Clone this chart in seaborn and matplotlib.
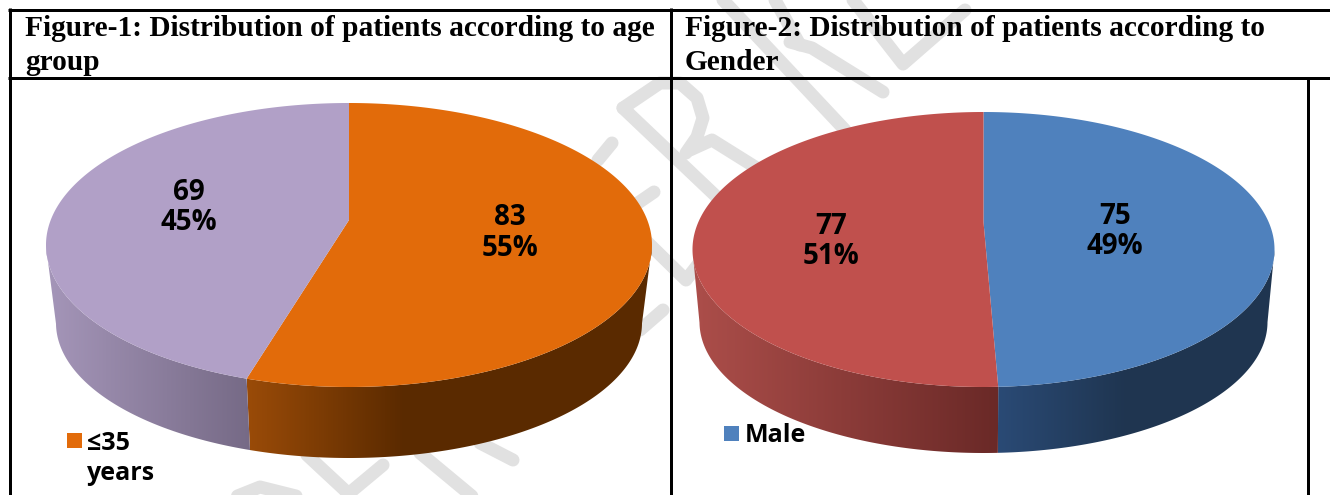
import numpy as np
import matplotlib
matplotlib.use("Agg")
import matplotlib.pyplot as plt
from matplotlib.patches import Polygon, Rectangle
from matplotlib.colors import ListedColormap
import seaborn as sns

# ---- data ----
age_categories = ["≤35\nyears", ">35 years"]
age_counts = [83, 69]
age_percent = [55, 45]
gender_categories = ["Male", "Female"]
gender_counts = [75, 77]
gender_percent = [49, 51]
titles = ["Figure-1: Distribution of patients according to age\ngroup",
          "Figure-2: Distribution of patients according to\nGender"]

sns.set_theme(style="white")
W, H = 1330, 495
fig = plt.figure(figsize=(W / 100, H / 100), dpi=100, facecolor="white")
ax = fig.add_axes([0, 0, 1, 1])
ax.set_facecolor("white")
sns.despine(ax=ax, left=True, bottom=True)
PX = 72 / 100  # points per pixel


def project(theta_deg, t):
    """Perspective view of a unit-circle point (theta measured as in maths)."""
    th = np.radians(theta_deg)
    u, v = np.cos(th), np.sin(th)
    d = 1 + t * v
    return np.sqrt(1 - t * t) * u / d, (v + t) / d


def pie3d(counts, colors, side_ramps, cx, cy, rx, ry, t, cx2, cy2, rx2, ry2):
    total = sum(counts)
    edges = 90 - np.cumsum([0] + list(counts)) / total * 360
    for i in range(len(counts)):
        a0, a1 = edges[i], edges[i + 1]
        # visible side wall: lower half of the ellipse in projected angles
        x0, y0 = project(a0, t)
        x1, y1 = project(a1, t)
        p0 = np.degrees(np.arctan2(y0, x0))
        p1 = np.degrees(np.arctan2(y1, x1))
        if p1 > p0:
            p1 -= 360
        phis = np.linspace(p0, p1, 400)
        wrapped = (phis + 180) % 360 - 180
        phis = wrapped[wrapped <= 0]
        if len(phis) > 1:
            phr = np.radians(phis)
            top = np.c_[cx + rx * np.cos(phr), cy - ry * np.sin(phr)]
            bot = np.c_[cx2 + rx2 * np.cos(phr), cy2 - ry2 * np.sin(phr)]
            poly = Polygon(np.r_[top, bot[::-1]], closed=True, transform=ax.transData,
                           facecolor="none", edgecolor="none")
            ax.add_patch(poly)
            xa, xb = np.r_[top, bot][:, 0].min(), np.r_[top, bot][:, 0].max()
            (c0, c1, frac) = side_ramps[i]
            n_r = int(max(2, (xb - xa) * frac))
            n_f = int(max(0, (xb - xa) - n_r))
            ramp = sns.blend_palette([c0, c1], n_r)
            if i == 0:
                cols = ramp + [c1] * n_f
            else:
                cols = [c0] * n_f + ramp
            img = ax.imshow(np.arange(len(cols))[None, :], cmap=ListedColormap(cols),
                            extent=(xa, xb, cy2 + ry2 + 5, cy - 5), aspect="auto",
                            zorder=3, interpolation="nearest")
            img.set_clip_path(poly)
    for i in range(len(counts)):
        a0, a1 = edges[i], edges[i + 1]
        th = np.linspace(a0, a1, 300)
        xp, yp = project(th, t)
        xs = np.r_[cx, cx + rx * xp]
        ys = np.r_[cy - ry * t, cy - ry * yp]
        ax.fill(xs, ys, color=colors[i], lw=0, zorder=4)


# watermark strokes behind everything
WM = "#E1E1E1"
marks = [
    [(623, 108), (720, 200)],
    [(623, 108), (660, 83), (680, 83), (697, 98), (703, 118), (697, 137), (686, 153)],
    [(690, 150), (712, 140), (760, 170)],
    [(723, 0), (845, 130)],
    [(790, 42), (812, 48), (883, 92)],
    [(775, 0), (800, 45)],
    [(853, 0), (903, 64), (965, 10)],
    [(598, 160), (612, 143)],
    [(635, 205), (654, 192)],
    [(640, 235), (686, 280), (700, 262)],
    [(663, 310), (640, 330)],
    [(307, 455), (350, 495)],
    [(383, 465), (347, 495)],
    [(420, 453), (473, 497)],
    [(480, 443), (513, 460)],
    [(235, 497), (260, 487), (300, 497)],
]
for m in marks:
    ax.plot(*zip(*m), color=WM, lw=13 * PX, solid_capstyle="round",
            solid_joinstyle="round", zorder=1)

# table rules
RULE = dict(color="black", lw=3 * PX, zorder=2, solid_capstyle="butt")
ax.plot([8, W], [9.5, 9.5], **RULE)
ax.plot([8, W], [78, 78], **RULE)
ax.plot([9.5, 9.5], [8, H], **RULE)
ax.plot([670.5, 670.5], [8, H], **RULE)
ax.plot([1307.5, 1307.5], [78, H], **RULE)

# pies
pie3d(age_counts, ["#E26B0A", "#B1A0C7"],
      [("#9A4B08", "#5A2A00", 0.39), ("#A596B9", "#766A86", 1.0)],
      349, 245, 303, 142, 0.176, 349, 323, 293, 135)
pie3d(gender_counts, ["#4F81BD", "#C0504D"],
      [("#2A4A75", "#1F3550", 0.47), ("#AC4E4A", "#6A2927", 1.0)],
      983.5, 249.5, 291, 137.5, 0.2, 983.5, 322, 284, 131)

# header text
for x, s in zip((25, 685), titles):
    l1, l2 = s.split("\n")
    ax.text(x, 28, l1, family="Liberation Serif", weight="bold", fontsize=21.2,
            color="black", va="center", ha="left", zorder=6)
    ax.text(x, 62, l2, family="Liberation Serif", weight="bold", fontsize=21.2,
            color="black", va="center", ha="left", zorder=6)

# data labels
LBL = dict(family="Open Sans", weight="bold", fontsize=20, color="black",
           ha="center", va="center", zorder=6)
for (x, y), n, p in zip([(510, 232.5), (189, 207.5)], age_counts, age_percent):
    ax.text(x, y - 15, str(n), **LBL)
    ax.text(x, y + 15.5, f"{p}%", **LBL)
for (x, y), n, p in zip([(1115, 231.5), (831, 241)], gender_counts, gender_percent):
    ax.text(x, y - 15, str(n), **LBL)
    ax.text(x, y + 15.5, f"{p}%", **LBL)

# legend fragments
LEG = dict(family="Open Sans", weight="bold", fontsize=18, color="black",
           ha="left", va="center", zorder=6)
ax.add_patch(Rectangle((67, 433), 15, 15, color="#E26B0A", lw=0, zorder=6))
l1, l2 = age_categories[0].split("\n")
ax.text(87, 443, l1, **LEG)
ax.text(87, 473, l2, **LEG)
ax.add_patch(Rectangle((724, 426), 15, 15, color="#4F81BD", lw=0, zorder=6))
ax.text(745, 435, gender_categories[0], **LEG)

ax.set_xlim(0, W)
ax.set_ylim(H, 0)
ax.set_axis_off()
fig.savefig("out.png", dpi=100)
